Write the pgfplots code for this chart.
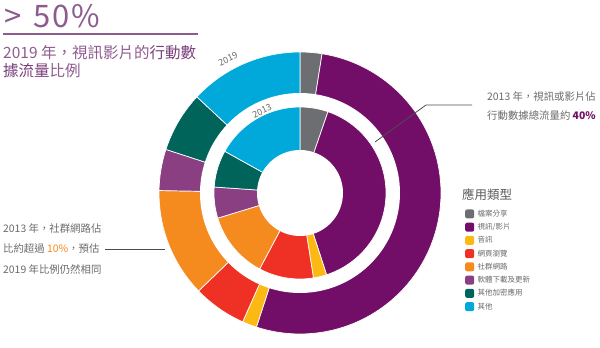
\documentclass[border=0pt]{standalone}
\usepackage{pgfplots}
\pgfplotsset{compat=1.18}
\usepgfplotslibrary{polar}
\usepackage{fontspec}
\setmainfont{Noto Sans CJK TC}
\definecolor{cGray}{HTML}{6D6E71}
\definecolor{cPurple}{HTML}{720E67}
\definecolor{cYellow}{HTML}{FDB913}
\definecolor{cRed}{HTML}{EE3124}
\definecolor{cOrange}{HTML}{F58A1F}
\definecolor{cLPurple}{HTML}{8A3F82}
\definecolor{cTeal}{HTML}{00645A}
\definecolor{cCyan}{HTML}{00A9D9}
\definecolor{cTitle}{HTML}{8E5B8E}
\definecolor{cTitleD}{HTML}{7A3F7A}
\definecolor{cText}{HTML}{6A6A6A}
\begin{document}
\begin{tikzpicture}[x=1pt,y=1pt]
\path[use as bounding box] (0,0) rectangle (600,348);
\begin{polaraxis}[
  at={(300pt,155pt)}, anchor=center,
  scale only axis, width=282pt, height=282pt,
  ymin=0, ymax=141, hide axis, clip=false,
  legend style={at={(1.085,0.444)}, anchor=north west, draw=none, fill=none,
    inner sep=0pt, font=\fontsize{7.5}{9}\selectfont\color{cText},
    row sep=3.4pt, nodes={inner ysep=1pt, inner xsep=3.5pt}},
  legend cell align=left,
  legend image code/.code={\fill[#1, draw=none, rounded corners=2pt] (0pt,-4.5pt) rectangle (9pt,4.5pt);},
  every axis plot/.append style={draw=white, line width=0.7pt},
]
% 2019 (outer ring), angles in degrees (standard orientation)
\addplot[fill=cGray, domain=81:90, samples=6] {141} -- (axis cs:0,0) -- cycle; \addlegendentry{檔案分享}
\addplot[fill=cPurple, domain=-108:81, samples=80] {141} -- (axis cs:0,0) -- cycle; \addlegendentry{視訊/影片}
\addplot[fill=cYellow, domain=-114:-108, samples=5] {141} -- (axis cs:0,0) -- cycle; \addlegendentry{音訊}
\addplot[fill=cRed, domain=-136:-114, samples=12] {141} -- (axis cs:0,0) -- cycle; \addlegendentry{網頁瀏覽}
\addplot[fill=cOrange, domain=-181:-136, samples=20] {141} -- (axis cs:0,0) -- cycle; \addlegendentry{社群網路}
\addplot[fill=cLPurple, domain=-198:-181, samples=9] {141} -- (axis cs:0,0) -- cycle; \addlegendentry{軟體下載及更新}
\addplot[fill=cTeal, domain=-223:-198, samples=12] {141} -- (axis cs:0,0) -- cycle; \addlegendentry{其他加密應用}
\addplot[fill=cCyan, domain=-270:-223, samples=20] {141} -- (axis cs:0,0) -- cycle; \addlegendentry{其他}
\addplot[fill=white, draw=none, domain=0:360, samples=140, forget plot] {100} -- cycle;
% 2013 (inner ring)
\addplot[fill=cGray, domain=71:90, samples=9, forget plot] {86} -- (axis cs:0,0) -- cycle;
\addplot[fill=cPurple, domain=-72:71, samples=60, forget plot] {86} -- (axis cs:0,0) -- cycle;
\addplot[fill=cYellow, domain=-81:-72, samples=5, forget plot] {86} -- (axis cs:0,0) -- cycle;
\addplot[fill=cRed, domain=-118:-81, samples=16, forget plot] {86} -- (axis cs:0,0) -- cycle;
\addplot[fill=cOrange, domain=-163:-118, samples=20, forget plot] {86} -- (axis cs:0,0) -- cycle;
\addplot[fill=cLPurple, domain=-184:-163, samples=10, forget plot] {86} -- (axis cs:0,0) -- cycle;
\addplot[fill=cTeal, domain=-209:-184, samples=12, forget plot] {86} -- (axis cs:0,0) -- cycle;
\addplot[fill=cCyan, domain=-270:-209, samples=26, forget plot] {86} -- (axis cs:0,0) -- cycle;
\addplot[fill=white, draw=none, domain=0:360, samples=100, forget plot] {43} -- cycle;
\end{polaraxis}
% title
\node[anchor=base west, inner sep=0pt, text=cTitle, font=\fontsize{31}{31}\selectfont\addfontfeatures{LetterSpace=5}] at (4,320) {>\hspace{4pt} 50\%};
\draw[cTitle, line width=1.3pt] (3,314) -- (198,314);
\node[anchor=base west, inner sep=0pt, text=cTitle, font=\fontsize{15.5}{15.5}\selectfont] at (3,289) {2019 年，視訊影片的\textcolor{cTitleD}{行動數}};
\node[anchor=base west, inner sep=0pt, text=cTitle, font=\fontsize{15.5}{15.5}\selectfont] at (3,271.5) {\textcolor{cTitleD}{據流量}比例};
% ring labels
\node[text=cText, font=\fontsize{9}{9}\selectfont, rotate=25, inner sep=0pt] at (228,289) {2019};
\node[text=cText, font=\fontsize{9}{9}\selectfont, rotate=25, inner sep=0pt] at (262,237) {2013};
% right annotation
\draw[black!70, line width=0.8pt] (375,206) -- (426,243) -- (472,243);
\node[anchor=base west, inner sep=0pt, text=cText, font=\fontsize{10.4}{10.4}\selectfont] at (487,247) {2013 年，視訊或影片佔};
\node[anchor=base west, inner sep=0pt, text=cText, font=\fontsize{10.4}{10.4}\selectfont] at (487,228) {行動數據總流量約 \textcolor{cPurple}{\bfseries 40\%}};
% left annotation
\draw[black!70, line width=0.8pt] (105,99) -- (165,99);
\node[anchor=base west, inner sep=0pt, text=cText, font=\fontsize{10.4}{10.4}\selectfont] at (3,115) {2013 年，社群網路佔};
\node[anchor=base west, inner sep=0pt, text=cText, font=\fontsize{10.4}{10.4}\selectfont] at (3,95) {比約超過 \textcolor{cOrange}{10\%}，預估};
\node[anchor=base west, inner sep=0pt, text=cText, font=\fontsize{10.4}{10.4}\selectfont] at (3,74) {2019 年比例仍然相同};
% legend title
\node[anchor=west, inner sep=0pt, text=black!65, font=\fontsize{12.5}{12.5}\selectfont] at (462,153) {應用類型};
\end{tikzpicture}
\end{document}
